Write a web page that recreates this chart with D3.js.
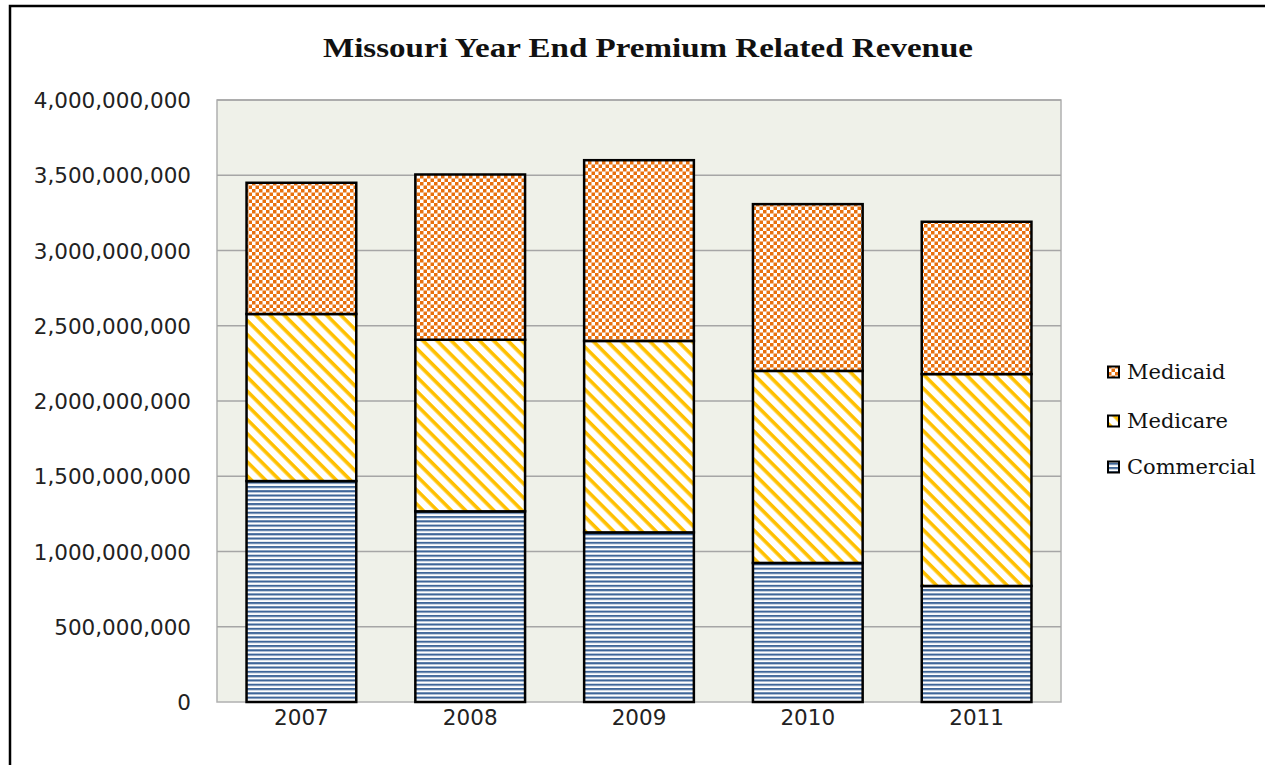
<!DOCTYPE html>
<html><head><meta charset="utf-8">
<script src="https://cdn.jsdelivr.net/npm/d3@7"></script>
<style>body{margin:0;background:#fff;}svg{display:block;}</style>
</head><body>
<svg id="c" width="1265" height="765"></svg>
<script>
const years = ["2007","2008","2009","2010","2011"];
const commercial = [1468000000, 1267000000, 1127000000, 924000000, 771000000];
const medicare   = [1110000000, 1140000000, 1272000000, 1276000000, 1408000000];
const medicaid   = [ 872000000, 1098000000, 1201000000, 1108000000, 1012000000];
const seriesNames = ["Commercial","Medicare","Medicaid"];
const yTicks = [0,500000000,1000000000,1500000000,2000000000,2500000000,3000000000,3500000000,4000000000];
const title = "Missouri Year End Premium Related Revenue";

const svg = d3.select("#c");
const defs = svg.append("defs");

// patterns
const pCheck = defs.append("pattern").attr("id","pMedicaid").attr("patternUnits","userSpaceOnUse").attr("width",7).attr("height",7);
pCheck.append("rect").attr("width",7).attr("height",7).attr("fill","#fff");
pCheck.append("rect").attr("width",3.5).attr("height",3.5).attr("fill","#E8700E");
pCheck.append("rect").attr("x",3.5).attr("y",3.5).attr("width",3.5).attr("height",3.5).attr("fill","#E8700E");

const pDiag = defs.append("pattern").attr("id","pMedicare").attr("patternUnits","userSpaceOnUse").attr("width",10).attr("height",10).attr("patternTransform","rotate(45)");
pDiag.append("rect").attr("width",10).attr("height",10).attr("fill","#fff");
pDiag.append("rect").attr("width",10).attr("height",3.6).attr("fill","#FFC000");

const pHoriz = defs.append("pattern").attr("id","pCommercial").attr("patternUnits","userSpaceOnUse").attr("width",8).attr("height",4.3);
pHoriz.append("rect").attr("width",8).attr("height",4.3).attr("fill","#fff");
pHoriz.append("rect").attr("width",8).attr("height",2.1).attr("fill","#3F6699");

const fills = {Commercial:"url(#pCommercial)", Medicare:"url(#pMedicare)", Medicaid:"url(#pMedicaid)"};

// outer border
svg.append("rect").attr("x",10).attr("y",6).attr("width",1400).attr("height",900)
  .attr("fill","none").attr("stroke","#000").attr("stroke-width",2.5);

const plot = {x0:217, x1:1061, y0:100, y1:702};
const x = d3.scaleBand().domain(years).range([plot.x0, plot.x1]).paddingInner(0.35).paddingOuter(0.175);
const y = d3.scaleLinear().domain([0,4000000000]).range([plot.y1, plot.y0]);

svg.append("rect").attr("x",plot.x0).attr("y",plot.y0).attr("width",plot.x1-plot.x0).attr("height",plot.y1-plot.y0)
  .attr("fill","#EFF1E9").attr("stroke","#B0B0B0").attr("stroke-width",1.5);

// gridlines
svg.append("g").selectAll("line").data(yTicks.slice(1)).join("line")
  .attr("x1",plot.x0).attr("x2",plot.x1).attr("y1",d=>y(d)).attr("y2",d=>y(d))
  .attr("stroke","#A6A6A6").attr("stroke-width",1.5);

// y axis labels
const yAxis = d3.axisLeft(y).tickValues(yTicks).tickFormat(d3.format(",")).tickSize(0).tickPadding(0);
const ya = svg.append("g").attr("transform",`translate(${191},0)`).call(yAxis);
ya.select(".domain").remove();
ya.selectAll("text").attr("font-family","'DejaVu Sans', sans-serif").attr("font-size",21.5).attr("fill","#222").attr("dy","0.35em");

// x axis labels
const xAxis = d3.axisBottom(x).tickSize(0).tickPadding(0);
const xa = svg.append("g").attr("transform",`translate(0,${706})`).call(xAxis);
xa.select(".domain").remove();
xa.selectAll("text").attr("font-family","'DejaVu Sans', sans-serif").attr("font-size",21.5).attr("fill","#222").attr("dy","0.9em");

// stacked data
const table = years.map((yr,i)=>({year:yr, Commercial:commercial[i], Medicare:medicare[i], Medicaid:medicaid[i]}));
const stack = d3.stack().keys(seriesNames)(table);

svg.append("g").selectAll("g").data(stack).join("g")
  .attr("fill",d=>fills[d.key])
  .selectAll("rect").data(d=>d).join("rect")
  .attr("x",d=>x(d.data.year)).attr("width",x.bandwidth())
  .attr("y",d=>y(d[1])).attr("height",d=>y(d[0])-y(d[1]))
  .attr("stroke","#000").attr("stroke-width",2.5);

// title
svg.append("text").attr("x",648).attr("y",57).attr("text-anchor","middle")
  .attr("font-family","'Liberation Serif', serif").attr("font-weight","bold")
  .attr("font-size",27).attr("fill","#111")
  .attr("textLength",650).attr("lengthAdjust","spacingAndGlyphs")
  .text(title);

// legend
const legendOrder = ["Medicaid","Medicare","Commercial"];
const legendY = [372, 421, 467];
const lg = svg.append("g").selectAll("g").data(legendOrder).join("g")
  .attr("transform",(d,i)=>`translate(1108,${legendY[i]})`);
lg.append("rect").attr("x",0).attr("y",-5.5).attr("width",11).attr("height",11)
  .attr("fill",d=>fills[d]).attr("stroke","#000").attr("stroke-width",2);
lg.append("text").attr("x",19).attr("y",0).attr("dy","0.35em")
  .attr("font-family","'DejaVu Serif', serif").attr("font-size",21).attr("fill","#111")
  .text(d=>d);
</script>
</body></html>
